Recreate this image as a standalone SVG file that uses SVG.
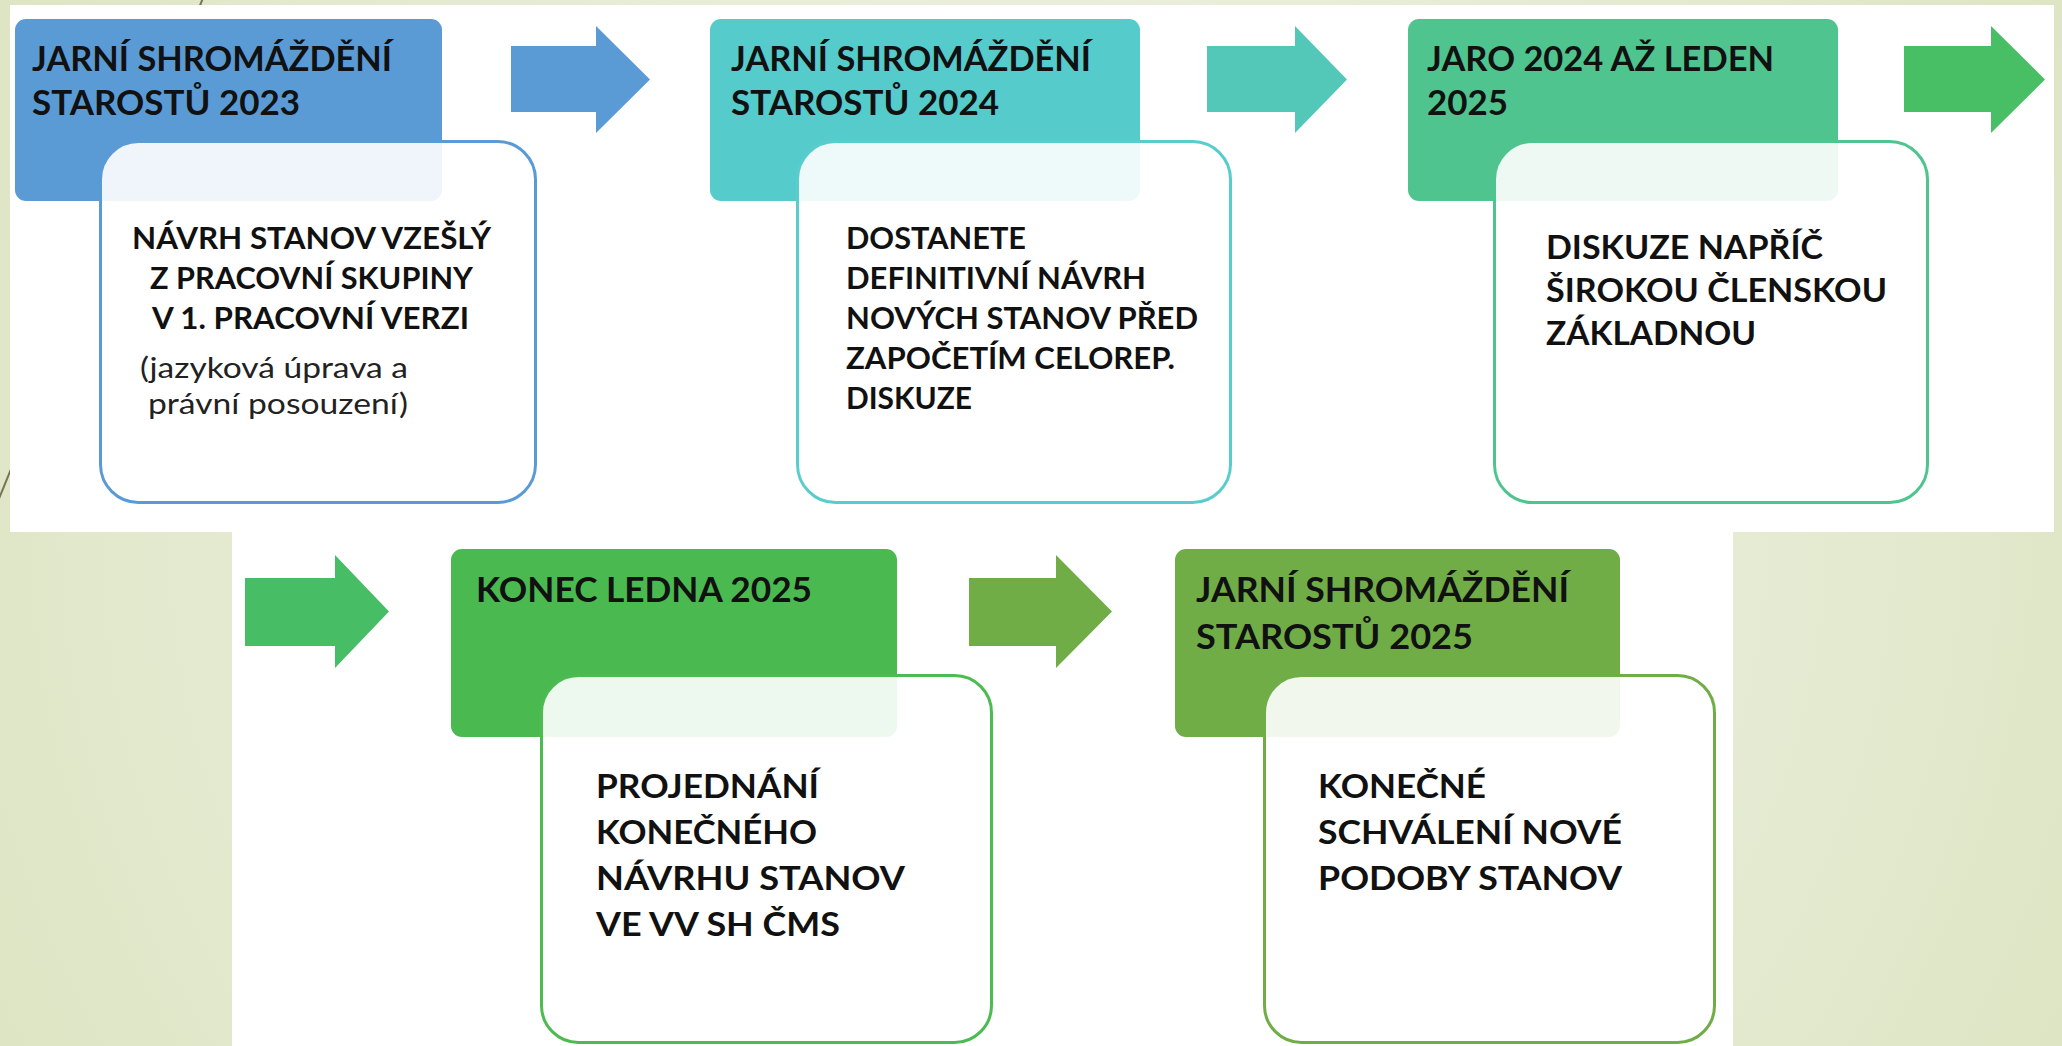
<svg xmlns="http://www.w3.org/2000/svg" width="2062" height="1046" viewBox="0 0 2062 1046">
<defs>
<radialGradient id="bg" cx="1031" cy="523" r="1150" gradientUnits="userSpaceOnUse">
<stop offset="0" stop-color="#f4f6ec"/>
<stop offset="1" stop-color="#dde5c4"/>
</radialGradient>
<style>
.hd{font-family:Lato,"Noto Sans","DejaVu Sans",sans-serif;font-weight:bold;font-size:34px;fill:#111}
.bd{font-family:Lato,"Noto Sans","DejaVu Sans",sans-serif;font-weight:bold;font-size:30px;fill:#111}
.bd2{font-family:Lato,"Noto Sans","DejaVu Sans",sans-serif;font-weight:bold;font-size:32px;fill:#111}
.rg{font-family:Lato,"Noto Sans","DejaVu Sans",sans-serif;font-weight:normal;font-size:29px;fill:#222}
.body{fill:#ffffff;fill-opacity:0.9;stroke-width:3}
</style>
</defs>
<rect x="0" y="0" width="2062" height="1046" fill="url(#bg)"/>
<line x1="203" y1="-2" x2="-4" y2="506" stroke="#7a7256" stroke-width="2"/>
<rect x="10" y="5" width="2044" height="527" fill="#ffffff"/>
<rect x="232" y="530" width="1501" height="520" fill="#ffffff"/>

<g id="connectors">
<polygon points="511,46 596,46 596,26 650,79.5 596,133 596,112 511,112" fill="#5b9bd5"/>
<polygon points="1207,46 1295,46 1295,26 1347,79.5 1295,133 1295,112 1207,112" fill="#54c8b8"/>
<polygon points="1904,46 1991,46 1991,26 2045,79.5 1991,133 1991,112 1904,112" fill="#48bf64"/>
<polygon points="245,578 335,578 335,555 389,611.5 335,668 335,646 245,646" fill="#47bd66"/>
<polygon points="969,578 1056,578 1056,555 1112,611.5 1056,668 1056,646 969,646" fill="#70ad47"/>
</g>

<g id="node1">
<rect x="15" y="19" width="427" height="182" rx="11" fill="#5b9bd5"/>
<text class="hd" x="32" y="71" textLength="360" lengthAdjust="spacingAndGlyphs">JARNÍ SHROMÁŽDĚNÍ</text>
<text class="hd" x="32" y="115" textLength="268" lengthAdjust="spacingAndGlyphs">STAROSTŮ 2023</text>
<rect class="body" x="100.5" y="141.5" width="435" height="361" rx="38" stroke="#5b9bd5"/>
<text class="bd" x="132" y="249" textLength="359" lengthAdjust="spacingAndGlyphs">NÁVRH STANOV VZEŠLÝ</text>
<text class="bd" x="150" y="289" textLength="323" lengthAdjust="spacingAndGlyphs">Z PRACOVNÍ SKUPINY</text>
<text class="bd" x="152" y="329" textLength="317" lengthAdjust="spacingAndGlyphs">V 1. PRACOVNÍ VERZI</text>
<text class="rg" x="140" y="378" textLength="268" lengthAdjust="spacingAndGlyphs">(jazyková úprava a</text>
<text class="rg" x="148" y="414" textLength="260" lengthAdjust="spacingAndGlyphs">právní posouzení)</text>
</g>

<g id="node2">
<rect x="710" y="19" width="430" height="182" rx="11" fill="#56cbcb"/>
<text class="hd" x="731" y="71" textLength="360" lengthAdjust="spacingAndGlyphs">JARNÍ SHROMÁŽDĚNÍ</text>
<text class="hd" x="731" y="115" textLength="268" lengthAdjust="spacingAndGlyphs">STAROSTŮ 2024</text>
<rect class="body" x="797.5" y="141.5" width="433" height="361" rx="38" stroke="#58cdcc"/>
<text class="bd" x="846" y="249" textLength="180" lengthAdjust="spacingAndGlyphs">DOSTANETE</text>
<text class="bd" x="846" y="289" textLength="300" lengthAdjust="spacingAndGlyphs">DEFINITIVNÍ NÁVRH</text>
<text class="bd" x="846" y="329" textLength="352" lengthAdjust="spacingAndGlyphs">NOVÝCH STANOV PŘED</text>
<text class="bd" x="846" y="369" textLength="329" lengthAdjust="spacingAndGlyphs">ZAPOČETÍM CELOREP.</text>
<text class="bd" x="846" y="409" textLength="126" lengthAdjust="spacingAndGlyphs">DISKUZE</text>
</g>

<g id="node3">
<rect x="1408" y="19" width="430" height="182" rx="11" fill="#50c48e"/>
<text class="hd" x="1427" y="71" textLength="347" lengthAdjust="spacingAndGlyphs">JARO 2024 AŽ LEDEN</text>
<text class="hd" x="1427" y="115" textLength="81" lengthAdjust="spacingAndGlyphs">2025</text>
<rect class="body" x="1494.5" y="141.5" width="433" height="361" rx="38" stroke="#50c48e"/>
<text class="bd2" x="1546" y="259" textLength="277" lengthAdjust="spacingAndGlyphs">DISKUZE NAPŘÍČ</text>
<text class="bd2" x="1546" y="302" textLength="341" lengthAdjust="spacingAndGlyphs">ŠIROKOU ČLENSKOU</text>
<text class="bd2" x="1546" y="345" textLength="210" lengthAdjust="spacingAndGlyphs">ZÁKLADNOU</text>
</g>

<g id="node4">
<rect x="451" y="549" width="446" height="188" rx="11" fill="#4aba50"/>
<text class="hd" x="476" y="602" textLength="336" lengthAdjust="spacingAndGlyphs">KONEC LEDNA 2025</text>
<rect class="body" x="541.5" y="675.5" width="450" height="367" rx="37" stroke="#4cbb52"/>
<text class="bd2" x="596" y="798" textLength="223" lengthAdjust="spacingAndGlyphs">PROJEDNÁNÍ</text>
<text class="bd2" x="596" y="844" textLength="221" lengthAdjust="spacingAndGlyphs">KONEČNÉHO</text>
<text class="bd2" x="596" y="890" textLength="309" lengthAdjust="spacingAndGlyphs">NÁVRHU STANOV</text>
<text class="bd2" x="596" y="936" textLength="244" lengthAdjust="spacingAndGlyphs">VE VV SH ČMS</text>
</g>

<g id="node5">
<rect x="1175" y="549" width="445" height="188" rx="11" fill="#70ad47"/>
<text class="hd" x="1196" y="602" textLength="373" lengthAdjust="spacingAndGlyphs">JARNÍ SHROMÁŽDĚNÍ</text>
<text class="hd" x="1196" y="649" textLength="277" lengthAdjust="spacingAndGlyphs">STAROSTŮ 2025</text>
<rect class="body" x="1264.5" y="675.5" width="450" height="367" rx="37" stroke="#70ad47"/>
<text class="bd2" x="1318" y="798" textLength="168" lengthAdjust="spacingAndGlyphs">KONEČNÉ</text>
<text class="bd2" x="1318" y="844" textLength="304" lengthAdjust="spacingAndGlyphs">SCHVÁLENÍ NOVÉ</text>
<text class="bd2" x="1318" y="890" textLength="304" lengthAdjust="spacingAndGlyphs">PODOBY STANOV</text>
</g>
</svg>
